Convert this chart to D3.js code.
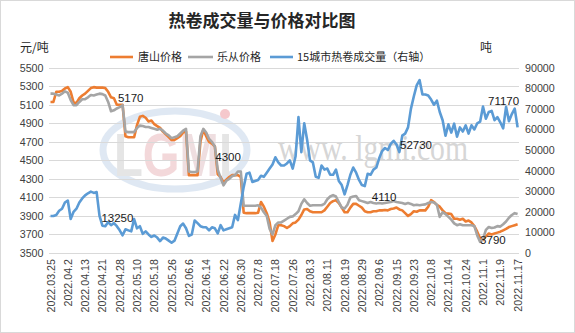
<!DOCTYPE html>
<html><head><meta charset="utf-8">
<script src="https://cdn.jsdelivr.net/npm/d3@7"></script>
<style>
html,body{margin:0;padding:0;background:#fff;}
svg{display:block;font-family:"Liberation Sans",Arial,sans-serif;}
</style></head>
<body><svg id="c" width="575" height="333"></svg>
<script>
const dates = ["2022.03.25","2022.03.28","2022.03.29","2022.03.30","2022.03.31","2022.04.1","2022.04.2","2022.04.6","2022.04.7","2022.04.8",
"2022.04.11","2022.04.12","2022.04.13","2022.04.14","2022.04.15","2022.04.18","2022.04.19","2022.04.20","2022.04.21","2022.04.22",
"2022.04.24","2022.04.25","2022.04.26","2022.04.27","2022.04.28","2022.04.29","2022.05.5","2022.05.6","2022.05.7","2022.05.9",
"2022.05.10","2022.05.11","2022.05.12","2022.05.13","2022.05.16","2022.05.17","2022.05.18","2022.05.19","2022.05.20","2022.05.23",
"2022.05.24","2022.05.25","2022.05.26","2022.05.27","2022.05.30","2022.05.31","2022.06.1","2022.06.2","2022.06.6","2022.06.7",
"2022.06.8","2022.06.9","2022.06.10","2022.06.13","2022.06.14","2022.06.15","2022.06.16","2022.06.17","2022.06.20","2022.06.21",
"2022.06.22","2022.06.23","2022.06.24","2022.06.27","2022.06.28","2022.06.29","2022.06.30","2022.07.1","2022.07.4","2022.07.5",
"2022.07.6","2022.07.7","2022.07.8","2022.07.11","2022.07.12","2022.07.13","2022.07.14","2022.07.15","2022.07.18","2022.07.19",
"2022.07.20","2022.07.21","2022.07.22","2022.07.25","2022.07.26","2022.07.27","2022.07.28","2022.07.29","2022.08.1","2022.08.2",
"2022.08.3","2022.08.4","2022.08.5","2022.08.8","2022.08.9","2022.08.10","2022.08.11","2022.08.12","2022.08.15","2022.08.16",
"2022.08.17","2022.08.18","2022.08.19","2022.08.22","2022.08.23","2022.08.24","2022.08.25","2022.08.26","2022.08.29","2022.08.30",
"2022.08.31","2022.09.1","2022.09.2","2022.09.5","2022.09.6","2022.09.7","2022.09.8","2022.09.9","2022.09.13","2022.09.14",
"2022.09.15","2022.09.16","2022.09.19","2022.09.20","2022.09.21","2022.09.22","2022.09.23","2022.09.26","2022.09.27","2022.09.28",
"2022.09.29","2022.09.30","2022.10.8","2022.10.9","2022.10.10","2022.10.11","2022.10.12","2022.10.13","2022.10.14","2022.10.17",
"2022.10.18","2022.10.19","2022.10.20","2022.10.21","2022.10.24","2022.10.25","2022.10.26","2022.10.27","2022.10.28","2022.10.31",
"2022.11.1","2022.11.2","2022.11.3","2022.11.4","2022.11.7","2022.11.8","2022.11.9","2022.11.10","2022.11.11","2022.11.14",
"2022.11.15","2022.11.16","2022.11.17"];

const tickLabels = ["2022.03.25","2022.04.2","2022.04.13","2022.04.21","2022.04.28","2022.05.10","2022.05.18","2022.05.26","2022.06.6",
"2022.06.14","2022.06.22","2022.06.30","2022.07.8","2022.07.18","2022.07.26","2022.08.3","2022.08.11","2022.08.19","2022.08.29",
"2022.09.6","2022.09.15","2022.09.23","2022.10.8","2022.10.14","2022.10.24","2022.11.1","2022.11.9","2022.11.17"];

const tangshan = [5130,5130,5240,5240,5250,5275,5290,5240,5125,5120,
5170,5200,5220,5250,5280,5290,5285,5285,5285,5280,
5240,5180,5170,5100,5100,5100,4760,4750,4750,4750,
4880,4970,4980,4960,4920,4930,4890,4870,4850,4810,
4780,4750,4720,4720,4740,4760,4800,4810,4340,4340,
4340,4340,4700,4830,4760,4700,4680,4650,4350,4320,
4260,4290,4320,4340,4340,4340,4320,3935,3930,3930,
3930,3930,3935,4050,4000,3930,3830,3630,3700,3800,
3800,3790,3770,3790,3820,3830,3860,3910,3970,3975,
3950,3940,3940,3940,3940,3960,4000,4040,4060,4070,
4040,3990,3940,3940,3990,4030,4030,4010,3990,3950,
3940,3940,3950,3950,3960,3960,3965,3960,3975,3980,
3990,3970,3960,3930,3900,3920,3950,3945,3960,3960,
3960,4000,4070,4050,4020,4000,3960,3930,3925,3920,
3870,3870,3860,3870,3840,3850,3830,3790,3730,3660,
3640,3680,3710,3700,3710,3720,3730,3745,3760,3780,
3790,3800,3810];

const lecong = [5220,5220,5210,5200,5220,5245,5230,5150,5095,5095,
5130,5160,5160,5180,5205,5200,5210,5220,5215,5200,
5130,5030,5040,5060,5075,5095,4810,4805,4805,4805,
4850,4875,4870,4860,4860,4850,4840,4830,4840,4820,
4790,4770,4740,4750,4760,4790,4820,4840,4380,4375,
4375,4380,4760,4840,4800,4730,4700,4650,4400,4310,
4230,4280,4300,4330,4340,4380,4380,4010,4010,4010,
4010,4010,4015,3990,3940,3900,3760,3700,3800,3830,
3830,3850,3870,3890,3895,3920,3950,4030,4080,4040,
4010,4015,4015,4015,4015,4030,4080,4110,4125,4110,
4050,3990,3980,4020,4100,4110,4115,4070,4060,4050,
4040,4050,4040,4035,4040,4035,4040,4045,4050,4060,
4050,4045,4040,4030,4040,4030,4015,4020,4015,4020,
4025,4040,4050,4045,4020,3890,3940,3920,3890,3860,
3820,3800,3810,3800,3800,3800,3800,3790,3690,3620,
3650,3750,3780,3770,3775,3790,3785,3810,3840,3880,
3910,3930,3920];

const volume15 = [18000,18000,18500,20500,21500,24500,25500,16500,20000,21500,
24500,26500,28000,29000,29800,29200,29600,18000,13250,13000,
15000,13500,14500,13000,11000,8600,11500,11000,10500,16500,
12000,13000,9300,10500,9000,7800,8500,7500,5800,7500,
7000,6000,5000,6000,9500,13000,14300,12000,8300,9000,
15800,14500,13000,12500,12500,11000,12500,12000,9500,13500,
11000,11500,12000,12500,18500,16000,24000,32000,38500,39000,
34500,35000,35500,37500,37000,39000,41000,43000,46500,44000,
42500,42500,43500,45000,41000,47000,66000,49000,63000,55000,
45000,44000,37000,36500,42500,40500,41000,38000,38000,40500,
35000,33000,28500,33000,38000,41500,39000,35500,33000,32500,
38500,38000,40500,41500,46000,49500,51000,50000,53000,54500,
52730,49000,57000,58000,61000,70000,76000,81400,84000,77000,
77000,76500,74500,72000,74000,68500,64500,57000,62500,58500,
62800,56500,61000,59000,62000,58000,62000,60000,63000,63800,
71170,65200,68500,69000,64500,66000,63500,60500,71000,64000,
67500,70100,61000];

const leftTicks = [3500,3700,3900,4100,4300,4500,4700,4900,5100,5300,5500];
const rightTicks = [0,10000,20000,30000,40000,50000,60000,70000,80000,90000];

const seriesNames = ["唐山价格","乐从价格","15城市热卷成交量（右轴）"];
const colors = ["#ED7D31","#A5A5A5","#5B9BD5"];

const dataLabels = [
  {text:"5170", axis:"L", i:22, v:5170, dx:4, dy:0},
  {text:"13250", axis:"R", i:18, v:13250, dx:-1, dy:-8},
  {text:"4300", axis:"L", i:62, v:4300, dx:-14, dy:-22},
  {text:"52730", axis:"R", i:120, v:52730, dx:3.5, dy:0.5},
  {text:"4110", axis:"L", i:105, v:4110, dx:18.5, dy:0.5},
  {text:"71170", axis:"R", i:150, v:71170, dx:5, dy:-5},
  {text:"3790", axis:"L", i:149, v:3790, dx:0, dy:14}
];

const svg = d3.select("#c");
svg.append("rect").attr("x",0.5).attr("y",0.5).attr("width",574).attr("height",332)
  .attr("fill","#fff").attr("stroke","#d9d9d9");

const x = d3.scalePoint().domain(dates).range([50.5,517.6]);
const yL = d3.scaleLinear().domain([3500,5500]).range([253,67.7]);
const yR = d3.scaleLinear().domain([0,90000]).range([253,67.7]);

// watermark
const wm = svg.append("g").attr("opacity",0.55);
wm.append("ellipse").attr("cx",175).attr("cy",150).attr("rx",72).attr("ry",39)
  .attr("fill","none").attr("stroke","#c5d6ea").attr("stroke-width",7);
const lg = wm.append("text").attr("x",114).attr("y",176).attr("font-size",62).attr("font-weight","bold")
  .attr("font-family","Liberation Sans, Arial").attr("textLength",118).attr("lengthAdjust","spacingAndGlyphs");
lg.append("tspan").attr("fill","#d0d0d0").text("L");
lg.append("tspan").attr("fill","#eab9bd").text("G");
lg.append("tspan").attr("fill","#e2c4c8").text("M");
lg.append("tspan").attr("fill","#d0d0d0").text("I");
wm.append("circle").attr("cx",225).attr("cy",114).attr("r",5).attr("fill","#ee9ca3");
svg.append("text").attr("x",278).attr("y",160).attr("font-size",36)
  .attr("font-family","Liberation Serif, serif").attr("fill","#d6d6d6")
  .attr("textLength",190).attr("lengthAdjust","spacingAndGlyphs").text("www. lgmi.com");

// gridlines
svg.append("g").selectAll("line").data(leftTicks).join("line")
  .attr("x1",49).attr("x2",519).attr("y1",d=>Math.round(yL(d))+0.5).attr("y2",d=>Math.round(yL(d))+0.5)
  .attr("stroke","#d9d9d9").attr("stroke-width",1);

// axes
const axL = svg.append("g").attr("transform","translate(48,0)")
  .call(d3.axisLeft(yL).tickValues(leftTicks).tickSize(0).tickPadding(4.5).tickFormat(d3.format("d")));
const axR = svg.append("g").attr("transform","translate(521,0)")
  .call(d3.axisRight(yR).tickValues(rightTicks).tickSize(0).tickPadding(4).tickFormat(d3.format("d")));
[axL,axR].forEach(a=>{a.select(".domain").remove();
  a.selectAll("text").attr("font-size",10.7).attr("fill","#404040").attr("font-family","Liberation Sans, Arial");});

// x labels
svg.append("g").selectAll("text").data(tickLabels).join("text")
  .attr("transform",d=>`translate(${x(d)+0.3},259) rotate(-90)`)
  .attr("text-anchor","end").attr("dy","0.35em").attr("font-size",10.7).attr("fill","#404040")
  .text(d=>d);

// lines
const lineL = d3.line().x((d,i)=>x(dates[i])).y(d=>yL(d));
const lineR = d3.line().x((d,i)=>x(dates[i])).y(d=>yR(d));
svg.append("path").datum(tangshan).attr("d",lineL).attr("fill","none").attr("stroke",colors[0]).attr("stroke-width",2.6).attr("stroke-linejoin","round");
svg.append("path").datum(lecong).attr("d",lineL).attr("fill","none").attr("stroke",colors[1]).attr("stroke-width",2.6).attr("stroke-linejoin","round");
svg.append("path").datum(volume15).attr("d",lineR).attr("fill","none").attr("stroke",colors[2]).attr("stroke-width",2.6).attr("stroke-linejoin","round");

// data labels
svg.append("g").selectAll("text").data(dataLabels).join("text")
  .attr("x",d=>x(dates[d.i])+d.dx)
  .attr("y",d=>(d.axis==="L"?yL(d.v):yR(d.v))+d.dy)
  .attr("dy","0.35em").attr("font-size",11.5).attr("fill","#1a1a1a").text(d=>d.text);

// title
svg.append("text").attr("x",262).attr("y",27).attr("text-anchor","middle")
  .attr("font-family","Noto Sans CJK SC").attr("font-weight","bold").attr("font-size",17).attr("fill","#262626")
  .text("热卷成交量与价格对比图");
svg.append("text").attr("x",20).attr("y",52).attr("font-family","Noto Sans CJK SC").attr("font-size",12).attr("fill","#262626").text("元/吨");
svg.append("text").attr("x",480).attr("y",52).attr("font-family","Noto Sans CJK SC").attr("font-size",12).attr("fill","#262626").text("吨");

// legend
const legX = [[110,133,138],[188,213,217],[270,293,297]];
const leg = svg.append("g");
seriesNames.forEach((n,k)=>{
  leg.append("line").attr("x1",legX[k][0]).attr("x2",legX[k][1]).attr("y1",57).attr("y2",57)
    .attr("stroke",colors[k]).attr("stroke-width",2.6);
  leg.append("text").attr("x",legX[k][2]).attr("y",57).attr("dy","0.35em")
    .attr("font-family","Noto Sans CJK SC").attr("font-size",11).attr("fill","#262626").text(n);
});
</script></body></html>
